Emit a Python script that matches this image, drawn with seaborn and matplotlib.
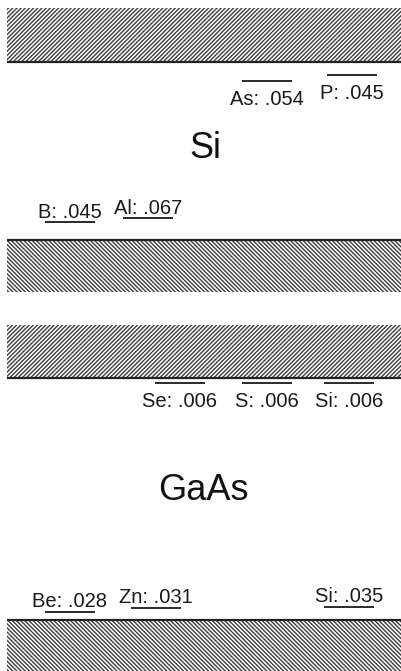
import matplotlib
matplotlib.use("Agg")
import matplotlib.pyplot as plt
import seaborn as sns

# ---------------- data ----------------
materials = ["Si", "GaAs"]
band_gaps = [1.12, 1.42]  # eV

si_donors = ["As", "P"]
si_donor_ev = [0.054, 0.045]
si_acceptors = ["B", "Al"]
si_acceptor_ev = [0.045, 0.067]

gaas_donors = ["Se", "S", "Si"]
gaas_donor_ev = [0.006, 0.006, 0.006]
gaas_acceptors = ["Be", "Zn", "Si"]
gaas_acceptor_ev = [0.028, 0.031, 0.035]

# schematic (drawn) depth of each level below Ec / above Ev, eV
si_donor_depth = [0.120, 0.082]
si_acceptor_depth = [0.113, 0.138]
gaas_donor_depth = [0.029, 0.029, 0.029]
gaas_acceptor_depth = [0.049, 0.072, 0.078]

# ---------------- layout (pixels) ----------------
W, H, DPI = 401, 671, 100
X0 = 7
panels = {
    # top px, CB px, VB px, bottom px, title baseline px
    "Si": dict(top=8, cb=62, vb=240, bottom=292, title=158),
    "GaAs": dict(top=325, cb=378, vb=620, bottom=671, title=500),
}
si_donor_x = [267, 352]
si_acceptor_x = [70, 148]
gaas_donor_x = [180, 267, 349]
gaas_acceptor_x = [70, 156, 349]
HALF = 25

sns.set_theme(style="white")
plt.rcParams["font.family"] = ["Liberation Sans", "DejaVu Sans"]
plt.rcParams["hatch.linewidth"] = 1.0
plt.rcParams["hatch.color"] = "#3c3c3c"

fig = plt.figure(figsize=(W / DPI, H / DPI), dpi=DPI)
fig.patch.set_facecolor("white")

level_sets = {
    "Si": (si_donors, si_donor_ev, si_donor_depth, si_donor_x,
           si_acceptors, si_acceptor_ev, si_acceptor_depth, si_acceptor_x),
    "GaAs": (gaas_donors, gaas_donor_ev, gaas_donor_depth, gaas_donor_x,
             gaas_acceptors, gaas_acceptor_ev, gaas_acceptor_depth, gaas_acceptor_x),
}

for mat, eg in zip(materials, band_gaps):
    p = panels[mat]
    k = eg / (p["vb"] - p["cb"])  # eV per px
    ytop = eg + (p["cb"] - p["top"]) * k
    ybot = -(p["bottom"] - p["vb"]) * k
    ax = fig.add_axes([X0 / W, (H - p["bottom"]) / H, (W - X0) / W, (p["bottom"] - p["top"]) / H])
    ax.set_xlim(X0, W)
    ax.set_ylim(ybot, ytop)
    ax.axis("off")

    # bands
    ax.axhspan(eg, ytop, facecolor="white", edgecolor="#3c3c3c", hatch="/" * 8, lw=0)
    ax.axhspan(ybot, 0, facecolor="white", edgecolor="#3c3c3c", hatch="\\" * 8, lw=0)
    ax.axhline(eg, color="#222222", lw=1.6)
    ax.axhline(0, color="#222222", lw=1.6)

    dn, dev, ddep, dx, an, aev, adep, ax_ = level_sets[mat]
    # donors
    for name, v, d, x in zip(dn, dev, ddep, dx):
        y = eg - d
        ax.hlines(y, x - HALF, x + HALF, color="#2a2a2a", lw=1.4)
        ax.annotate(f"{name}: " + f"{v:.3f}"[1:], (x, y),
                    xytext=(0, -24 * 72 / DPI), textcoords="offset points",
                    ha="center", va="baseline", fontsize=14.5, color="#1a1a1a")
    # acceptors
    for name, v, d, x in zip(an, aev, adep, ax_):
        y = d
        ax.hlines(y, x - HALF, x + HALF, color="#2a2a2a", lw=1.4)
        ax.annotate(f"{name}: " + f"{v:.3f}"[1:], (x, y),
                    xytext=(0, 4.5 * 72 / DPI), textcoords="offset points",
                    ha="center", va="baseline", fontsize=14.5, color="#1a1a1a")

    ty = (p["vb"] - p["title"]) * k
    ax.text(205 if mat == "Si" else 203, ty, mat, ha="center", va="baseline",
            fontsize=26, color="#111111")

fig.savefig("out.png", dpi=DPI, facecolor="white")
